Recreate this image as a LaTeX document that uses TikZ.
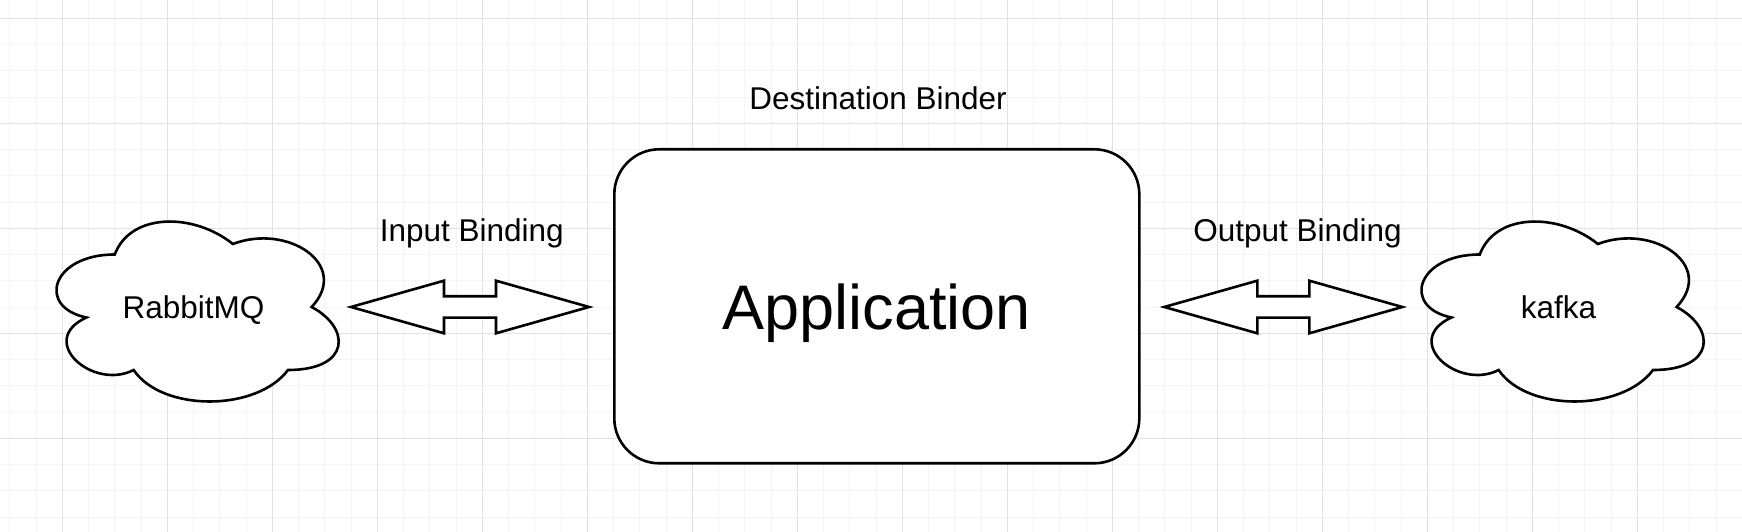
\documentclass[tikz,border=0pt]{standalone}
\usepackage{fontspec}
\setmainfont{Liberation Sans}
\usetikzlibrary{positioning}

\definecolor{gridmajor}{RGB}{226,226,226}
\definecolor{gridminor}{RGB}{244,244,244}

\tikzset{
  outline/.style={draw=black, line width=2.6pt, fill=white},
  cloudshape/.pic={
    \draw[outline, shift={(-157.5,105)}, x=315pt, y=-210pt]
      (0.25,0.25) .. controls (0.05,0.25) and (0,0.5) .. (0.16,0.55)
      .. controls (0,0.66) and (0.18,0.9) .. (0.31,0.8)
      .. controls (0.4,1) and (0.7,1) .. (0.8,0.8)
      .. controls (1,0.8) and (1,0.6) .. (0.875,0.5)
      .. controls (1,0.3) and (0.8,0.1) .. (0.625,0.2)
      .. controls (0.5,0.05) and (0.3,0.05) .. (0.25,0.25) -- cycle;
  },
  cloudbox/.style={minimum width=315pt, minimum height=210pt, inner sep=0pt,
    text depth=0pt, font=\fontsize{31.5}{38}\selectfont},
  appbox/.style={rectangle, rounded corners=45pt, outline,
    minimum width=525pt, minimum height=314pt, text depth=0pt,
    font=\fontsize{63}{76}\selectfont},
  bindtext/.style={font=\fontsize{31.5}{38}\selectfont, inner sep=0pt, anchor=base},
  bindarrow/.pic={
    \draw[outline, line join=miter]
      (-119,0) -- (-26,26.3) -- (-26,10.7) -- (26,10.7) -- (26,26.3) -- (119,0)
      -- (26,-26.3) -- (26,-10.7) -- (-26,-10.7) -- (-26,-26.3) -- cycle;
  }
}

\begin{document}
\begin{tikzpicture}[x=1pt, y=1pt]
  \useasboundingbox[fill=white] (0,0) rectangle (1742,532);
  \foreach \i in {0,...,65}
    \draw[gridminor, line width=1pt] ({9.8+26.25*\i},0) -- ++(0,532);
  \foreach \j in {0,...,19}
    \draw[gridminor, line width=1pt] (0,{513.7-26.25*\j}) -- ++(1742,0);
  \foreach \i in {0,...,15}
    \draw[gridmajor, line width=1pt] ({62.3+105*\i},0) -- ++(0,532);
  \foreach \j in {0,...,4}
    \draw[gridmajor, line width=1pt] (0,{513.7-105*\j}) -- ++(1742,0);

  \node[appbox] (app) at (876.8,225.7) {Application};
  \pic at (193.5,225) {cloudshape};
  \node[cloudbox] (rabbit) at (193.5,225) {RabbitMQ};
  \pic at (1558.5,225) {cloudshape};
  \node[cloudbox] (kafka) at (1558.5,225) {kafka};

  \node[bindtext] (binder) at (878,422.7) {Destination Binder};
  \node[bindtext] (input) at (471.7,290.3) {Input Binding};
  \node[bindtext] (output) at (1297.5,290.3) {Output Binding};

  \pic (inarrow) at (470,225) {bindarrow};
  \pic (outarrow) at (1283.3,225) {bindarrow};
\end{tikzpicture}
\end{document}
